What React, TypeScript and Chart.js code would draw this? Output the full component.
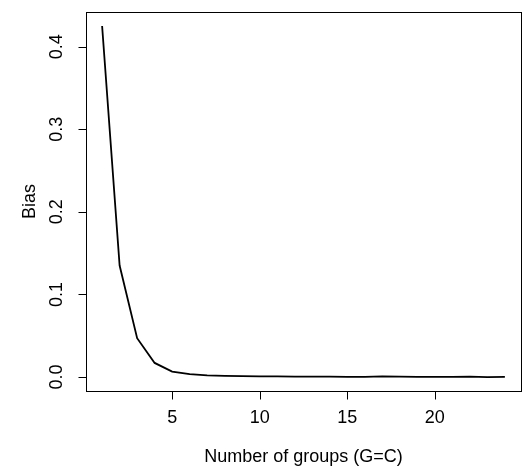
import React, { useEffect, useRef } from "react";
import { Chart, registerables } from "chart.js";

Chart.register(...registerables);

const groups = [1, 2, 3, 4, 5, 6, 7, 8, 9, 10, 11, 12, 13, 14, 15, 16, 17, 18, 19, 20, 21, 22, 23, 24];
const bias = [0.425, 0.135, 0.047, 0.017, 0.0065, 0.0035, 0.002, 0.0013, 0.0009, 0.0007, 0.0006, 0.0005, 0.0004, 0.0003, 0.0002, 0.0002, 0.0006, 0.0004, 0.0002, 0.0001, 0.0001, 0.0004, -0.0003, 0.0];
const xTicks = [5, 10, 15, 20];
const yTicks = [0.0, 0.1, 0.2, 0.3, 0.4];
const xTitle = "Number of groups (G=C)";
const yTitle = "Bias";

const FONT = "18px 'Liberation Sans', Arial, Helvetica, sans-serif";

const rAxes = {
  id: "rAxes",
  afterDraw(chart: any) {
    const ctx = chart.ctx as CanvasRenderingContext2D;
    const { left, right, top, bottom } = chart.chartArea;
    const xs = chart.scales.x;
    const ys = chart.scales.y;
    ctx.save();
    ctx.strokeStyle = "#000";
    ctx.lineWidth = 1;
    ctx.strokeRect(Math.round(left) + 0.5, Math.round(top) + 0.5, Math.round(right - left), Math.round(bottom - top));
    ctx.fillStyle = "#000";
    ctx.font = FONT;
    // x axis
    const x0 = Math.round(xs.getPixelForValue(xTicks[0])) + 0.5;
    const x1 = Math.round(xs.getPixelForValue(xTicks[xTicks.length - 1])) + 0.5;
    const by = Math.round(bottom) + 0.5;
    ctx.beginPath();
    ctx.moveTo(x0, by);
    ctx.lineTo(x1, by);
    xTicks.forEach((t) => {
      const px = Math.round(xs.getPixelForValue(t)) + 0.5;
      ctx.moveTo(px, by);
      ctx.lineTo(px, by + 8);
    });
    ctx.stroke();
    ctx.textAlign = "center";
    ctx.textBaseline = "middle";
    xTicks.forEach((t) => {
      ctx.fillText(String(t), xs.getPixelForValue(t), bottom + 27);
    });
    ctx.fillText(xTitle, (left + right) / 2, bottom + 66);
    // y axis
    const lx = Math.round(left) + 0.5;
    const y0 = Math.round(ys.getPixelForValue(yTicks[0])) + 0.5;
    const y1 = Math.round(ys.getPixelForValue(yTicks[yTicks.length - 1])) + 0.5;
    ctx.beginPath();
    ctx.moveTo(lx, y0);
    ctx.lineTo(lx, y1);
    yTicks.forEach((t) => {
      const py = Math.round(ys.getPixelForValue(t)) + 0.5;
      ctx.moveTo(lx, py);
      ctx.lineTo(lx - 8, py);
    });
    ctx.stroke();
    yTicks.forEach((t) => {
      const py = ys.getPixelForValue(t);
      ctx.save();
      ctx.translate(left - 29, py);
      ctx.rotate(-Math.PI / 2);
      ctx.fillText(t.toFixed(1), 0, 0);
      ctx.restore();
    });
    ctx.save();
    ctx.translate(left - 56, (top + bottom) / 2);
    ctx.rotate(-Math.PI / 2);
    ctx.fillText(yTitle, 0, 0);
    ctx.restore();
    ctx.restore();
  },
};

export default function App() {
  const ref = useRef<HTMLCanvasElement>(null);
  useEffect(() => {
    if (!ref.current) return;
    const chart = new Chart(ref.current, {
      type: "line",
      data: {
        datasets: [
          {
            data: groups.map((g, i) => ({ x: g, y: bias[i] })),
            borderColor: "#000",
            borderWidth: 1.8,
            pointRadius: 0,
            fill: false,
            tension: 0,
          },
        ],
      },
      options: {
        animation: false,
        responsive: false,
        maintainAspectRatio: false,
        layout: { padding: { left: 86, top: 12, right: 1, bottom: 79 } },
        plugins: { legend: { display: false }, tooltip: { enabled: false } },
        scales: {
          x: { type: "linear", min: 0.08, max: 24.92, display: false },
          y: { type: "linear", min: -0.017, max: 0.442, display: false },
        },
      },
      plugins: [rAxes],
    });
    return () => chart.destroy();
  }, []);
  return (
    <div style={{ position: "absolute", left: 0, top: 0, width: 522, height: 470, background: "#fff" }}>
      <canvas ref={ref} width={522} height={470} style={{ width: 522, height: 470 }} />
    </div>
  );
}
